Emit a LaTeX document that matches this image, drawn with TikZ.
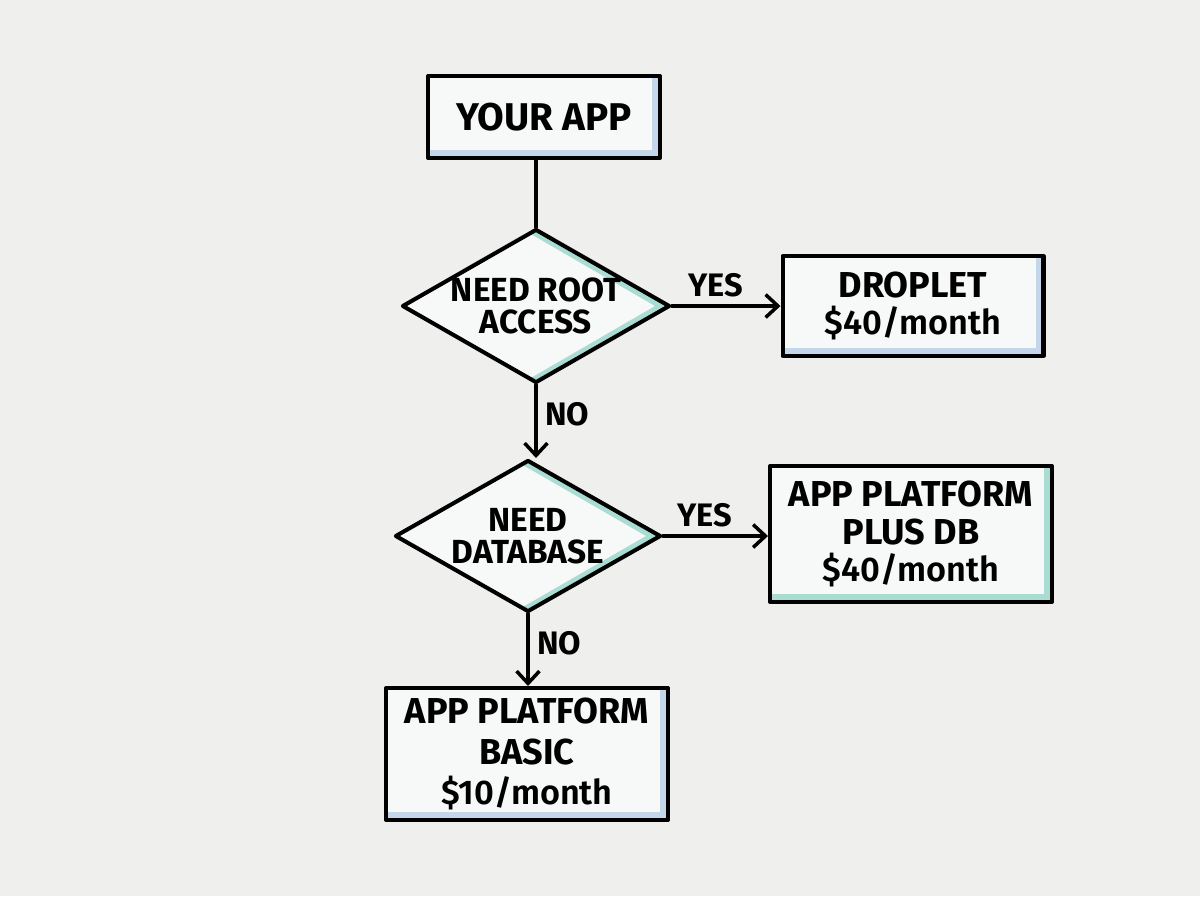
\documentclass[tikz,border=0pt]{standalone}
\usepackage{fontspec}
\setmainfont{Fira Sans}
\newfontfamily\pricefont{Fira Sans SemiBold}
\usetikzlibrary{shapes.geometric,arrows.meta}
\definecolor{paper}{HTML}{EFEFEE}
\definecolor{boxfill}{HTML}{F7F8F8}
\definecolor{shadeblue}{HTML}{C4D6EA}
\definecolor{shadeteal}{HTML}{A9DCD2}
\tikzset{
    ink/.style={line width=2.3pt, line join=round, line cap=round},
    box/.style={ink, draw, fill=boxfill, align=center, inner sep=0pt,
        font=\bfseries\fontsize{20.5}{21.5}\selectfont,
        path picture={
            \fill[#1] ([xshift=-4.5pt]path picture bounding box.north east) rectangle (path picture bounding box.south east);
            \fill[#1] (path picture bounding box.south west) rectangle ([yshift=4.5pt]path picture bounding box.south east);
        }},
    box/.default=shadeblue,
    ask/.style={ink, draw, diamond, fill=boxfill, align=center, inner sep=-12pt,
        font=\bfseries\fontsize{19}{18.5}\selectfont,
        path picture={
            \draw[shadeteal, line width=5pt] ([xshift=-2pt]path picture bounding box.north) -- ([xshift=-3pt]path picture bounding box.east) -- ([xshift=-2pt]path picture bounding box.south);
        }},
    flow/.style={ink, -{Straight Barb[length=7pt,width=13pt,line width=2pt]}},
    lbl/.style={font=\bfseries\fontsize{18.5}{21}\selectfont, inner sep=4pt}
}
\newcommand{\price}[1]{{\pricefont\mdseries\fontsize{19.5}{21.5}\selectfont #1}}
\begin{document}
\begin{tikzpicture}[x=0.02cm, y=-0.02cm]
    \fill[paper] (0,0) rectangle (1200,896);
    \useasboundingbox (0,0) rectangle (1200,896);

    \node[box, minimum width=4.64cm, minimum height=1.64cm, font=\bfseries\fontsize{22}{26}\selectfont] (app) at (544,117) {YOUR APP};
    \node[ask, minimum width=5.36cm, minimum height=3.08cm] (root) at (536,306) {NEED ROOT\\ACCESS};
    \node[ask, minimum width=5.32cm, minimum height=3.04cm] (db) at (528,536) {NEED\\DATABASE};
    \node[box, minimum width=5.22cm, minimum height=2.0cm] (droplet) at (913,306) {DROPLET\\\price{\$40/month}};
    \node[box=shadeteal, minimum width=5.64cm, minimum height=2.72cm] (plusdb) at (911,534) {APP PLATFORM\\PLUS DB\\\price{\$40/month}};
    \node[box, minimum width=5.64cm, minimum height=2.64cm, font=\bfseries\fontsize{20.5}{23}\selectfont] (basic) at (527,754) {APP PLATFORM\\BASIC\\\price{\$10/month}};

    \draw[ink] (app.south -| root.north) -- (root.north);
    \draw[flow] (root.east) -- node[lbl, above, pos=0.4] (yes1) {YES} (droplet.west |- root.east);
    \draw[flow] (root.south) -- node[lbl, right, pos=0.4] (no1) {NO} (db.north -| root.south);
    \draw[flow] (db.east) -- node[lbl, above, pos=0.4] (yes2) {YES} (plusdb.west |- db.east);
    \draw[flow] (db.south) -- node[lbl, right, pos=0.4] (no2) {NO} (basic.north -| db.south);
\end{tikzpicture}
\end{document}
